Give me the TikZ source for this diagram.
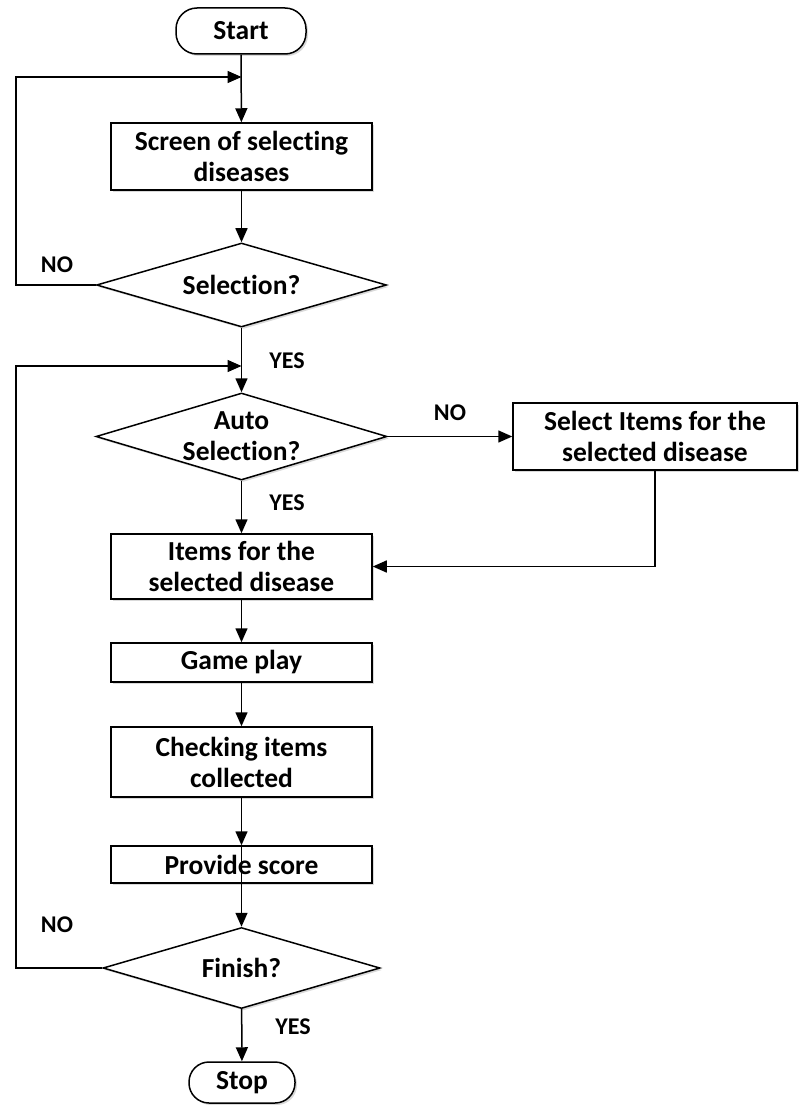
\documentclass[tikz,border=0pt]{standalone}
\usepackage{fontspec}
\setmainfont{Carlito}[Ligatures=NoCommon]
\usepackage{tikz}
\usetikzlibrary{shapes.geometric,arrows.meta,shadows}

\begin{document}
\begin{tikzpicture}[x=1pt,y=-1pt,
   line width=1.5pt, >={Triangle[length=14pt,width=12pt]},
   txt/.style={font=\bfseries\fontsize{27.5}{31}\selectfont, align=center, inner sep=0pt},
   box/.style={txt, draw, fill=white, drop shadow={opacity=0.3,shadow xshift=2pt,shadow yshift=-2pt}},
   term/.style={box, rounded corners=21pt},
   cond/.style={txt, diamond, aspect=3.4, draw, fill=white, drop shadow={opacity=0.3,shadow xshift=2pt,shadow yshift=-2pt}},
   lbl/.style={font=\bfseries\fontsize{24}{26}\selectfont, inner sep=0pt}]
   \useasboundingbox (0,0) rectangle (803,1105);

   \node[term, minimum width=130pt, minimum height=46pt](start) at (241,31) {Start};
   \node[box, minimum width=261pt, minimum height=67pt](screen) at (241.5,156.5) {Screen of selecting\\diseases};
   \node[cond, minimum width=290pt, minimum height=84pt](sel) at (241.5,285) {Selection?};
   \node[cond, minimum width=291pt, minimum height=87pt](auto) at (241.5,436.5) {Auto\\Selection?};
   \node[box, minimum width=284pt, minimum height=67pt](pick) at (655,436.5) {Select Items for the\\selected disease};
   \node[box, minimum width=261pt, minimum height=65pt](items) at (241.5,566.5) {Items for the\\selected disease};
   \node[box, minimum width=261pt, minimum height=39pt](game) at (241.5,662.5) {Game play};
   \node[box, minimum width=261pt, minimum height=70pt](check) at (241.5,762) {Checking items\\collected};
   \node[box, minimum width=261pt, minimum height=37pt](score) at (241.5,864.5) {Provide score};
   \node[cond, minimum width=277pt, minimum height=81pt](fin) at (241.5,968) {Finish?};
   \node[term, minimum width=106pt, minimum height=41pt, rounded corners=20pt](stop) at (242,1082.5) {Stop};

   \node[lbl](selno) at (57,265) {NO};
   \node[lbl](selyes) at (287,361) {YES};
   \node[lbl](autono) at (450,413) {NO};
   \node[lbl](autoyes) at (287,503) {YES};
   \node[lbl](finno) at (57,925) {NO};
   \node[lbl](finyes) at (293,1027) {YES};

   \coordinate(back1) at (16,77);
   \coordinate(join1) at (241.5,77);
   \coordinate(back2) at (16,366);
   \coordinate(join2) at (241.5,366);

   \draw[->](start) to (screen);
   \draw[->](screen) to (sel);
   \draw[->](sel) to (auto);
   \draw[->](auto) to (pick);
   \draw[->](auto) to (items);
   \draw[->](pick.south) |- (items.east);
   \draw[->](items) to (game);
   \draw[->](game) to (check);
   \draw[->](check) to (score);
   \draw[->](score.north) to (fin);
   \draw[->](fin) to (stop);
   \draw[->](sel.west) -| (back1) to (join1);
   \draw[->](fin.west) -| (back2) to (join2);

\end{tikzpicture}
\end{document}
